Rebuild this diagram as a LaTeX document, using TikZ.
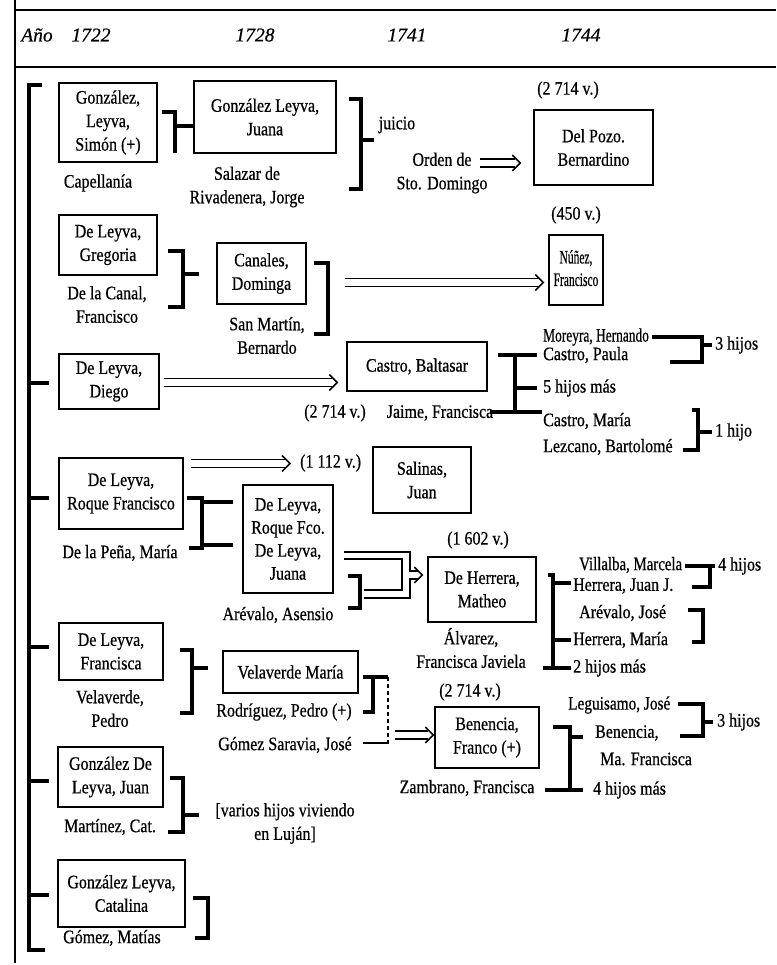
\documentclass[tikz,border=0pt]{standalone}
\usepackage{fontspec}
\setmainfont{Liberation Serif}[FakeStretch=0.84, FakeBold=0.6]
\newfontfamily\hdrfam{Liberation Serif}[FakeBold=0.6]
\usetikzlibrary{arrows.meta}
\newcommand\txtfont{\fontsize{19}{23.5}\selectfont}
\newcommand\hdrfont{\hdrfam\fontsize{19.5}{22}\selectfont\itshape}
% horizontal double arrow between two named coordinates
\newcommand\dblarrow[2]{%
  \draw[thin] ([yshift=4pt]#1) -- ([yshift=4pt,xshift=-5pt]#2);
  \draw[thin] ([yshift=-4pt]#1) -- ([yshift=-4pt,xshift=-5pt]#2);
  \draw[head] ([xshift=-8pt,yshift=8pt]#2) -- (#2) -- ([xshift=-8pt,yshift=-8pt]#2);}
\begin{document}
\begin{tikzpicture}[x=1pt,y=-1pt,
  box/.style={draw, line width=1.3pt, align=center, inner sep=0pt, font=\txtfont},
  lbl/.style={align=center, inner sep=0pt, font=\txtfont},
  hdr/.style={inner sep=0pt, font=\hdrfont},
  frame/.style={line width=1.1pt},
  br/.style={line width=3.2pt},
  thin/.style={line width=1.1pt},
  head/.style={line width=1.6pt, line join=miter},
]
\useasboundingbox (0,0) rectangle (776,965);
% frame
\draw[frame] (15,0) -- (15,963);
\draw[frame] (15,10) -- (776,10);
\draw[frame] (15,67) -- (776,67);
\node[hdr] (ano) at (37,35) {Año};
\node[hdr] (y1722) at (91,35) {1722};
\node[hdr] (y1728) at (255,35) {1728};
\node[hdr] (y1741) at (407,35) {1741};
\node[hdr] (y1744) at (581,35) {1744};

% big bracket
\coordinate (bb) at (29,85);
\draw[br] (42,85) -- (bb) -- (29,950) -- (45,950);
\foreach \yy in {383,498,647,781,895} \draw[br] (29,\yy) -- (49,\yy);

% row 1
\node[box, minimum width=98pt, minimum height=79pt] (simon) at (108,122.5) {González,\\Leyva,\\Simón (+)};
\node[lbl] (capell) at (98,183) {Capellanía};
\node[box, minimum width=142pt, minimum height=72pt] (juana) at (265,117) {González Leyva,\\Juana};
\node[lbl] (salazar) at (247,187) {Salazar de\\Rivadenera, Jorge};
\node[lbl] (juicio) at (397,125) {juicio};
\node[lbl] (orden) at (442,173) {Orden de\\Sto. Domingo};
\node[lbl] (v1) at (568,90) {(2 714 v.)};
\node[box, minimum width=119pt, minimum height=75pt] (pozo) at (593.5,147.5) {Del Pozo.\\Bernardino};
\draw[br] (162,112) -- (175,112) -- (175,153);
\draw[br] (175,126) -- (juana.west |- 0,126);
\draw[br] (349,99) -- (361,99) -- (361,189) -- (349,189);
\draw[br] (361,140) -- (374,140);
\coordinate (a1s) at (480,163);
\coordinate (a1e) at ([xshift=-13pt]pozo.west |- a1s);
\dblarrow{a1s}{a1e}

% row 2
\node[box, minimum width=98pt, minimum height=60pt] (gregoria) at (108,245) {De Leyva,\\Gregoria};
\node[lbl] (canal) at (107,304.5) {De la Canal,\\Francisco};
\node[box, minimum width=89pt, minimum height=61pt] (canales) at (261.5,273.5) {Canales,\\Dominga};
\node[lbl] (sanmartin) at (267,335.5) {San Martín,\\Bernardo};
\node[lbl] (v2) at (576,215) {(450 v.)};
\node[box, minimum width=54pt, minimum height=70pt] (nunez) at (576,270) {\scalebox{0.72}[1]{\begin{tabular}{@{}c@{}}Núñez,\\[-1pt]Francisco\end{tabular}}};
\draw[br] (168,251) -- (183,251) -- (183,307) -- (168,307);
\draw[br] (183,274) -- (199,274);
\draw[br] (314,263) -- (328,263) -- (328,334) -- (314,334);
\coordinate (a2s) at (345,282.5);
\coordinate (a2e) at ([xshift=-5pt]nunez.west |- a2s);
\dblarrow{a2s}{a2e}

% row 3
\node[box, minimum width=100pt, minimum height=55pt] (diego) at (109,381.5) {De Leyva,\\Diego};
\node[box, minimum width=140pt, minimum height=49pt] (castro) at (417,366.5) {Castro, Baltasar};
\coordinate (a3s) at ([xshift=4pt]diego.east |- 0,382.5);
\coordinate (a3e) at ([xshift=-9pt]castro.west |- a3s);
\dblarrow{a3s}{a3e}
\node[lbl] (v3) at (335,413) {(2 714 v.)};
\node[lbl] (jaime) at (440,413) {Jaime, Francisca};
\node[lbl, anchor=west] (moreyra) at (543,337) {\scalebox{0.84}[1]{Moreyra, Hernando}};
\node[lbl, anchor=west] (paula) at (543,355) {Castro, Paula};
\node[lbl, anchor=west] (cinco) at (543,388) {5 hijos más};
\node[lbl, anchor=west] (cmaria) at (543,421) {Castro, María};
\node[lbl, anchor=west] (lezcano) at (543,447) {Lezcano, Bartolomé};
\node[lbl, anchor=west] (tres1) at (715,345) {3 hijos};
\node[lbl, anchor=west] (uno) at (715,432) {1 hijo};
\draw[br] (498,355) -- (537,355);
\draw[br] (515,355) -- (515,412);
\draw[br] (515,388) -- (537,388);
\draw[br] (490,412) -- (542,412);
\draw[br] (652,337) -- (702,337) -- (702,362) -- (670,362);
\draw[br] (702,345) -- (712,345);
\draw[br] (692,410) -- (698,410) -- (698,450) -- (683,450);
\draw[br] (698,432) -- (712,432);

% row 4
\node[box, minimum width=124pt, minimum height=71pt] (roque) at (121,493.5) {De Leyva,\\Roque Francisco};
\node[lbl] (pena) at (120,553) {De la Peña, María};
\node[lbl, anchor=west] (v4) at (300,463) {(1 112 v.)};
\coordinate (a4s) at ([xshift=7pt]roque.east |- 0,463.5);
\coordinate (a4e) at ([xshift=-10pt]v4.west |- a4s);
\dblarrow{a4s}{a4e}
\node[box, minimum width=98pt, minimum height=66pt] (salinas) at (422,480) {Salinas,\\Juan};
\node[box, minimum width=90pt, minimum height=108pt, font=\fontsize{19}{23}\selectfont] (rfj) at (288,539) {De Leyva,\\Roque Fco.\\De Leyva,\\Juana};
\node[lbl] (asensio) at (278,615) {Arévalo, Asensio};
\draw[br] (187,498) -- (202,498) -- (202,548) -- (189,548);
\draw[br] (202,502) -- (233,502);
\draw[br] (202,545) -- (233,545);
\draw[br] (348,576) -- (360,576) -- (360,608) -- (348,608);
\node[lbl] (v5) at (478,540) {(1 602 v.)};
\node[box, minimum width=108pt, minimum height=65pt] (herrera) at (482,589.5) {De Herrera,\\Matheo};
% merged double arrow into De Herrera
\draw[thin] ([xshift=10pt]rfj.east |- 0,552) -- (410,552) -- (410,571) -- (418,571);
\draw[thin] (418,579) -- (410,579) -- (410,598) -- (364,598);
\draw[thin] ([xshift=10pt]rfj.east |- 0,559) -- (402,559) -- (402,590) -- (364,590);
\coordinate (a5e) at ([xshift=-5pt]herrera.west |- 0,575);
\draw[head] ([xshift=-8pt,yshift=8pt]a5e) -- (a5e) -- ([xshift=-8pt,yshift=-8pt]a5e);
\node[lbl] (alvarez) at (471,648) {Álvarez,\\Francisca Javiela};
\draw[br] (548,575) -- (553,575) -- (553,668);
\draw[br] (553,583) -- (571,583);
\draw[br] (553,640) -- (571,640);
\draw[br] (543,668) -- (571,668);
\node[lbl, anchor=west] (villalba) at (579,565) {\scalebox{0.93}[1]{Villalba, Marcela}};
\node[lbl, anchor=west] (juanj) at (573,586) {Herrera, Juan J.};
\node[lbl, anchor=west] (josea) at (579,613) {Arévalo, José};
\node[lbl, anchor=west] (hmaria) at (573,640) {Herrera, María};
\node[lbl, anchor=west] (dos) at (573,668) {2 hijos más};
\node[lbl, anchor=west] (cuatro) at (718,566) {4 hijos};
\draw[br] (685,566) -- (715,566);
\draw[br] (710,566) -- (710,587) -- (692,587);
\draw[br] (688,610) -- (703,610) -- (703,642) -- (692,642);

% row 5
\node[box, minimum width=104pt, minimum height=57pt] (francisca) at (111,651.5) {De Leyva,\\Francisca};
\node[lbl] (velaverde) at (110,708.5) {Velaverde,\\Pedro};
\draw[br] (180,650) -- (192,650) -- (192,713) -- (180,713);
\draw[br] (192,668) -- (208,668);
\node[box, minimum width=135pt, minimum height=42pt] (velmaria) at (290.5,672) {Velaverde María};
\node[lbl] (rodriguez) at (284,712) {Rodríguez, Pedro (+)};
\node[lbl] (gomezs) at (285,745) {Gómez Saravia, José};
\draw[br] (363,677) -- (388,677);
\draw[br] (373,677) -- (373,712) -- (363,712);
\draw[line width=2pt, dash pattern=on 4pt off 3pt] (388,677) -- (388,743);
\draw[line width=2pt] (363,743) -- (389,743);
\node[lbl] (v6) at (470,692) {(2 714 v.)};
\node[box, minimum width=104pt, minimum height=61pt] (benencia) at (487,737.5) {Benencia,\\Franco (+)};
\coordinate (a6s) at (395,735);
\coordinate (a6e) at ([xshift=-1pt]benencia.west |- a6s);
\dblarrow{a6s}{a6e}
\node[lbl] (zambrano) at (467,788) {Zambrano, Francisca};
\draw[br] (553,727) -- (570,727) -- (570,790);
\draw[br] (570,737) -- (583,737);
\draw[br] (545,790) -- (583,790);
\node[lbl, anchor=west] (leguisamo) at (568,705) {\scalebox{0.96}[1]{Leguisamo, José}};
\node[lbl, anchor=west] (benencia2) at (595,733) {Benencia,};
\node[lbl, anchor=west] (mafrancisca) at (600,759) {Ma. Francisca};
\node[lbl, anchor=west] (cuatromas) at (593,790) {4 hijos más};
\node[lbl, anchor=west] (tres2) at (717,722) {3 hijos};
\draw[br] (678,704) -- (703,704) -- (703,736) -- (680,736);
\draw[br] (703,722) -- (713,722);

% row 6
\node[box, minimum width=105pt, minimum height=60pt] (gdlj) at (110.5,777) {González De\\Leyva, Juan};
\node[lbl] (martinez) at (110,827) {Martínez, Cat.};
\draw[br] (170,778) -- (183,778) -- (183,832) -- (168,832);
\draw[br] (183,815) -- (199,815);
\node[lbl] (varios) at (285,823.5) {[varios hijos viviendo\\en Luján]};

% row 7
\node[box, minimum width=127pt, minimum height=67pt] (catalina) at (121.5,893.5) {González Leyva,\\Catalina};
\node[lbl] (gomezm) at (112,938) {Gómez, Matías};
\draw[br] (193,898) -- (208,898) -- (208,938) -- (195,938);
\end{tikzpicture}
\end{document}
